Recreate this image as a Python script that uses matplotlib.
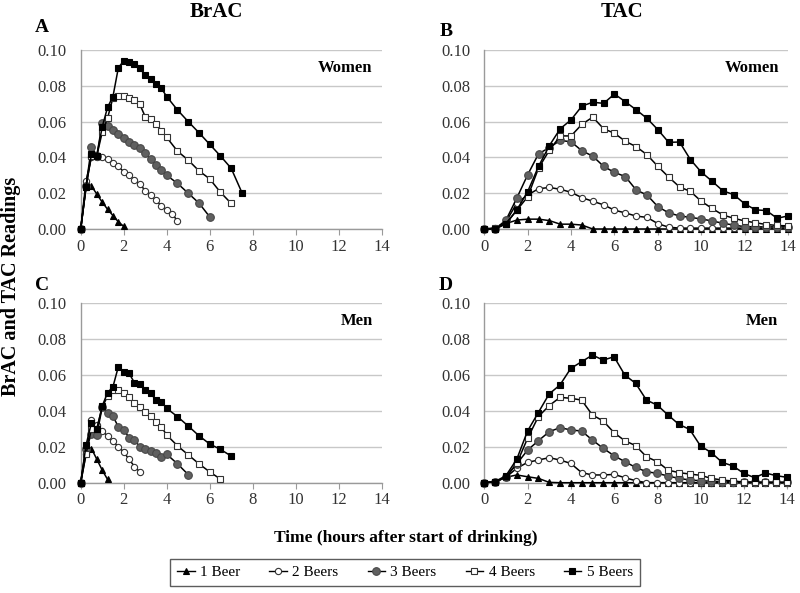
import matplotlib
matplotlib.use("Agg")
import matplotlib.pyplot as plt
from matplotlib.lines import Line2D

plt.rcParams['font.family'] = ['Liberation Serif', 'DejaVu Serif']

# ---- data ----
series_labels = ["1 Beer", "2 Beers", "3 Beers", "4 Beers", "5 Beers"]
q_times = [0, 0.25, 0.5, 0.75, 1.0, 1.25, 1.5, 1.75, 2.0, 2.25, 2.5, 2.75,
           3.0, 3.25, 3.5, 3.75, 4.0]

# Panel A: BrAC women
A1_t = [0, 0.25, 0.5, 0.75, 1.0, 1.25, 1.5, 1.75, 2.0]
A1 = [0, 0.0235, 0.024, 0.0195, 0.015, 0.011, 0.0075, 0.004, 0.0015]
A2_t = q_times + [4.25, 4.5]
A2 = [0, 0.027, 0.040, 0.040, 0.040, 0.039, 0.037, 0.035, 0.032, 0.030, 0.0275,
      0.025, 0.0215, 0.019, 0.016, 0.013, 0.0105, 0.0085, 0.0045]
A3_t = q_times + [4.5, 5.0, 5.5, 6.0]
A3 = [0, 0.024, 0.046, 0.041, 0.059, 0.0575, 0.0555, 0.053, 0.051, 0.0485, 0.047,
      0.045, 0.0425, 0.039, 0.036, 0.033, 0.030, 0.0255, 0.020, 0.0145, 0.0068]
A4_t = q_times + [4.5, 5.0, 5.5, 6.0, 6.5, 7.0]
A4 = [0, 0.024, 0.041, 0.041, 0.054, 0.062, 0.0733, 0.0743, 0.0745, 0.073, 0.0718,
      0.0696, 0.0628, 0.0615, 0.0587, 0.055, 0.0512, 0.0435, 0.0385, 0.0325, 0.028,
      0.0205, 0.0143]
A5_t = q_times + [4.5, 5.0, 5.5, 6.0, 6.5, 7.0, 7.5]
A5 = [0, 0.0235, 0.042, 0.041, 0.057, 0.068, 0.074, 0.090, 0.094, 0.0935, 0.092,
      0.0898, 0.0858, 0.084, 0.081, 0.0786, 0.074, 0.0665, 0.060, 0.0538, 0.0473,
      0.0408, 0.0339, 0.0203]

# Panel C: BrAC men
C1_t = [0, 0.25, 0.5, 0.75, 1.0, 1.25]
C1 = [0, 0.020, 0.019, 0.013, 0.007, 0.0018]
C2_t = [0, 0.25, 0.5, 0.75, 1.0, 1.25, 1.5, 1.75, 2.0, 2.25, 2.5, 2.75]
C2 = [0, 0.016, 0.035, 0.032, 0.0287, 0.026, 0.023, 0.020, 0.017, 0.013, 0.009, 0.006]
C3_t = q_times + [4.5, 5.0]
C3 = [0, 0.019, 0.027, 0.0265, 0.042, 0.0385, 0.037, 0.031, 0.0295, 0.025, 0.024,
      0.0198, 0.019, 0.0175, 0.0165, 0.0143, 0.0158, 0.0105, 0.0045]
C4_t = q_times + [4.5, 5.0, 5.5, 6.0, 6.5]
C4 = [0, 0.016, 0.030, 0.030, 0.042, 0.048, 0.0515, 0.0515, 0.0497, 0.0475, 0.0445,
      0.042, 0.0395, 0.037, 0.034, 0.031, 0.0265, 0.0205, 0.0155, 0.0105, 0.006, 0.002]
C5_t = q_times + [4.5, 5.0, 5.5, 6.0, 6.5, 7.0]
C5 = [0, 0.021, 0.0333, 0.0296, 0.0426, 0.050, 0.0533, 0.0644, 0.0617, 0.0607, 0.0556,
      0.0546, 0.0515, 0.0496, 0.046, 0.045, 0.0413, 0.0367, 0.0315, 0.0261, 0.0215,
      0.0185, 0.0148]

# Panels B, D: TAC (half-hour readings 0..14 h)
tac_times = [i * 0.5 for i in range(29)]
B1 = [0, 0, 0.003, 0.005, 0.0055, 0.0055, 0.0047, 0.0027, 0.0027, 0.0022] + [0] * 19
B2 = [0, 0.0005, 0.004, 0.0145, 0.019, 0.0225, 0.0232, 0.0222, 0.0205, 0.0175, 0.0155,
      0.0135, 0.0105, 0.009, 0.0072, 0.0065, 0.003, 0.001] + [0.0005] * 11
B3 = [0, 0, 0.005, 0.0173, 0.0303, 0.042, 0.0455, 0.0495, 0.0487, 0.0437, 0.0407,
      0.035, 0.0316, 0.0293, 0.0218, 0.019, 0.0125, 0.009, 0.0073, 0.0065, 0.0056,
      0.0045, 0.0032, 0.0022, 0.0013, 0.0012, 0.0012, 0.0012, 0.0012]
B4 = [0, 0.0005, 0.003, 0.0105, 0.018, 0.034, 0.044, 0.052, 0.052, 0.0585, 0.0625,
      0.056, 0.0535, 0.049, 0.046, 0.0415, 0.035, 0.029, 0.0235, 0.021, 0.0155, 0.0115,
      0.0078, 0.006, 0.0045, 0.0035, 0.0025, 0.002, 0.0017]
B5 = [0, 0, 0.003, 0.0106, 0.0209, 0.035, 0.0466, 0.056, 0.061, 0.0687, 0.0708, 0.0702,
      0.0754, 0.0711, 0.0666, 0.0618, 0.0555, 0.0484, 0.0486, 0.0388, 0.0318, 0.0267,
      0.0213, 0.0192, 0.0141, 0.0107, 0.0103, 0.006, 0.0073]

D1 = [0, 0.0005, 0.003, 0.0043, 0.0033, 0.0024, 0.0002] + [0] * 22
D2 = [0, 0.0005, 0.003, 0.008, 0.0113, 0.0126, 0.0139, 0.0126, 0.0107, 0.0056, 0.0043,
      0.0043, 0.0046, 0.0028, 0.0011] + [0] * 14
D3 = [0, 0.0005, 0.0033, 0.0104, 0.0181, 0.0233, 0.0283, 0.0306, 0.0293, 0.0287, 0.0237,
      0.0191, 0.015, 0.0117, 0.0085, 0.0061, 0.0052, 0.0037, 0.0024, 0.0015, 0.0011,
      0.0008, 0.0006, 0.0005, 0.0004, 0.0003, 0.0003, 0.0002, 0.0002]
D4 = [0, 0.0005, 0.003, 0.0107, 0.0246, 0.0367, 0.0428, 0.0474, 0.0469, 0.0459, 0.0376,
      0.0343, 0.0278, 0.0233, 0.0206, 0.0144, 0.0117, 0.007, 0.0056, 0.0048, 0.0041,
      0.0024, 0.0015, 0.0009, 0.0004, 0.0002, 0.0002, 0.0002, 0.0002]
D5 = [0, 0.0006, 0.0039, 0.013, 0.0287, 0.039, 0.0493, 0.0543, 0.0635, 0.0672, 0.0709,
      0.0681, 0.07, 0.0598, 0.0552, 0.0459, 0.0431, 0.0376, 0.0324, 0.0296, 0.0204,
      0.0167, 0.0113, 0.0093, 0.0052, 0.0028, 0.0054, 0.0039, 0.003]

x_ticks = [0, 2, 4, 6, 8, 10, 12, 14]
y_ticks = [0.00, 0.02, 0.04, 0.06, 0.08, 0.10]

# ---- styles ----
styles = [
    dict(marker='^', mfc='black', mec='black', ms=5),
    dict(marker='o', mfc='white', mec='#333333', ms=4.5),
    dict(marker='o', mfc='#606060', mec='#484848', ms=5.5),
    dict(marker='s', mfc='white', mec='#333333', ms=4.3),
    dict(marker='s', mfc='black', mec='black', ms=4.3),
]

fig = plt.figure(figsize=(8.0, 5.93), dpi=100)

W, H = 800.0, 593.0
def make_ax(x0, x1, ytop, ybot):
    return fig.add_axes([x0 / W, 1 - ybot / H, (x1 - x0) / W, (ybot - ytop) / H])

axA = make_ax(80.7, 381.7, 50, 229)
axB = make_ax(484.3, 788, 50, 229)
axC = make_ax(80.7, 381.7, 302.7, 482.7)
axD = make_ax(484.3, 787, 302.7, 482.7)

panels = [
    (axA, [(A1_t, A1), (A2_t, A2), (A3_t, A3), (A4_t, A4), (A5_t, A5)], "Women"),
    (axB, [(tac_times, s) for s in (B1, B2, B3, B4, B5)], "Women"),
    (axC, [(C1_t, C1), (C2_t, C2), (C3_t, C3), (C4_t, C4), (C5_t, C5)], "Men"),
    (axD, [(tac_times, s) for s in (D1, D2, D3, D4, D5)], "Men"),
]

for ax, data, group in panels:
    for (t, v), st in zip(data, styles):
        ax.plot(t, v, color='black', lw=1.1, marker=st['marker'], mfc=st['mfc'],
                mec=st['mec'], ms=st['ms'], mew=0.8, clip_on=False, zorder=3)
    ax.set_xlim(0, 14)
    ax.set_ylim(0, 0.10)
    ax.set_xticks(x_ticks)
    ax.set_yticks(y_ticks)
    ax.set_yticklabels([f"{v:.2f}" for v in y_ticks])
    ax.grid(axis='y', color='#c8c8c8', lw=1.0, zorder=0)
    ax.set_axisbelow(True)
    for s in ('top', 'right'):
        ax.spines[s].set_visible(False)
    for s in ('left', 'bottom'):
        ax.spines[s].set_color('#9a9a9a')
        ax.spines[s].set_linewidth(1.0)
    ax.tick_params(axis='y', length=0, labelsize=12, colors='#333333', pad=10)
    ax.tick_params(axis='x', length=4, direction='out', color='#9a9a9a',
                   labelsize=12, labelcolor='#333333', pad=3)
    ax.text(0.97, 0.90, group, transform=ax.transAxes, ha='right', va='center',
            fontsize=12, fontweight='bold')

fig.text(42 / W, 1 - 28 / H, "A", fontsize=14, fontweight='bold', ha='center', va='center')
fig.text(446 / W, 1 - 31 / H, "B", fontsize=14, fontweight='bold', ha='center', va='center')
fig.text(42 / W, 1 - 286 / H, "C", fontsize=14, fontweight='bold', ha='center', va='center')
fig.text(446 / W, 1 - 286 / H, "D", fontsize=14, fontweight='bold', ha='center', va='center')

fig.text(216 / W, 1 - 12 / H, "BrAC", fontsize=15, fontweight='bold', ha='center', va='center')
fig.text(622 / W, 1 - 12 / H, "TAC", fontsize=15, fontweight='bold', ha='center', va='center')

fig.text(11 / W, 1 - 286 / H, "BrAC and TAC Readings", fontsize=14.5, fontweight='bold',
         rotation=90, ha='center', va='center')
fig.text(406 / W, 1 - 538 / H, "Time (hours after start of drinking)", fontsize=12.5,
         fontweight='bold', ha='center', va='center')

handles = [Line2D([], [], color='black', lw=1.0, marker=st['marker'], mfc=st['mfc'],
                  mec=st['mec'], ms=st['ms'], mew=0.8) for st in styles]
leg = fig.legend(handles, series_labels, loc='center', bbox_to_anchor=(405 / W, 1 - 572.5 / H),
                 ncol=5, frameon=True, fancybox=False, edgecolor='#333333',
                 fontsize=11, handlelength=1.15, handletextpad=0.35, columnspacing=1.9,
                 borderpad=0.45, borderaxespad=0)
leg.get_frame().set_linewidth(1.0)

fig.savefig("out.png", dpi=100)
